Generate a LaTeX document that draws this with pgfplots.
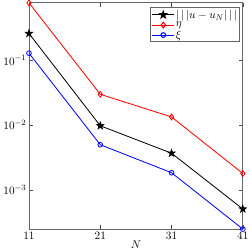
\documentclass[border=0pt]{standalone}
\usepackage{pgfplots}
\pgfplotsset{compat=1.18}
\pgfdeclareplotmark{fivestar}{%
  \pgfpathmoveto{\pgfpointpolar{90}{\pgfplotmarksize}}%
  \pgfpathlineto{\pgfpointpolar{126}{0.4\pgfplotmarksize}}%
  \pgfpathlineto{\pgfpointpolar{162}{\pgfplotmarksize}}%
  \pgfpathlineto{\pgfpointpolar{198}{0.4\pgfplotmarksize}}%
  \pgfpathlineto{\pgfpointpolar{234}{\pgfplotmarksize}}%
  \pgfpathlineto{\pgfpointpolar{270}{0.4\pgfplotmarksize}}%
  \pgfpathlineto{\pgfpointpolar{306}{\pgfplotmarksize}}%
  \pgfpathlineto{\pgfpointpolar{342}{0.4\pgfplotmarksize}}%
  \pgfpathlineto{\pgfpointpolar{18}{\pgfplotmarksize}}%
  \pgfpathlineto{\pgfpointpolar{54}{0.4\pgfplotmarksize}}%
  \pgfpathclose
  \pgfusepathqfillstroke}
\begin{document}
\begin{tikzpicture}
\begin{axis}[
  scale only axis,
  width=208pt, height=220pt,
  ymode=log,
  xmin=11, xmax=41,
  ymin=2.5e-4, ymax=0.77,
  xtick={11,21,31,41},
  ytick={1e-3,1e-2,1e-1},
  log basis y=10,
  tick align=inside,
  axis line style={black!60, line width=0.8pt},
  major tick length=4pt,
  minor tick length=2pt,
  tick style={black!70},
  tick label style={font=\fontsize{11}{13}\selectfont},
  yticklabel style={xshift=1pt},
  label style={font=\fontsize{11}{13}\selectfont},
  xlabel={$N$},
  xlabel style={yshift=6pt},
  legend style={at={(0.985,0.98)}, anchor=north east, font=\fontsize{11}{13}\selectfont,
    draw=black!60, line width=0.8pt, inner sep=1pt},
  legend cell align=left,
  legend image code/.code={\draw[mark repeat=2,mark phase=2,line width=1pt]
    plot coordinates {(0cm,0cm)(0.38cm,0cm)(0.76cm,0cm)};},
  every axis legend/.append style={nodes={inner sep=1pt}},
]
\addplot[black, line width=0.8pt, mark=fivestar, mark size=3.5pt, mark options={fill=black}]
  coordinates {(11,0.26) (21,0.0098) (31,0.0037) (41,0.00051)};
\addlegendentry{$|\,|\,|u-u_N|\,|\,|$}
\addplot[red, line width=0.8pt, mark=diamond, mark size=2.8pt]
  coordinates {(11,0.77) (21,0.030) (31,0.0134) (41,0.0018)};
\addlegendentry{$\eta$}
\addplot[blue, line width=0.8pt, mark=o, mark size=2.3pt]
  coordinates {(11,0.129) (21,0.0050) (31,0.00185) (41,0.00025)};
\addlegendentry{$\xi$}
\end{axis}
\end{tikzpicture}
\end{document}
